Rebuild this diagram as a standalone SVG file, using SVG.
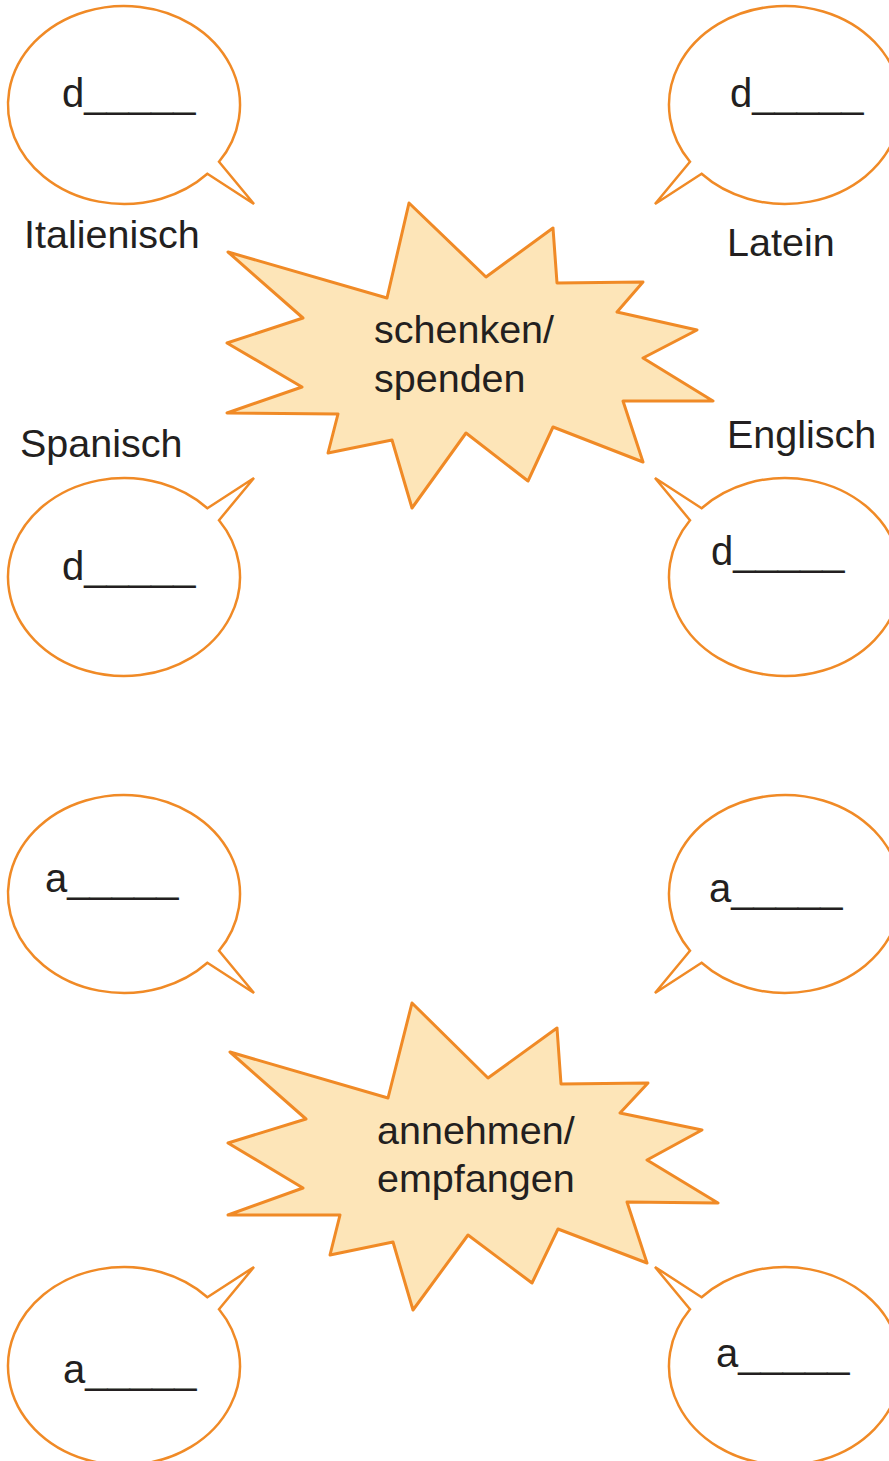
<svg xmlns="http://www.w3.org/2000/svg" xmlns:xlink="http://www.w3.org/1999/xlink" width="889" height="1461" viewBox="0 0 889 1461">
<defs>
<style>
.bubble{fill:#FFFFFF;stroke:#F08A26;stroke-width:2.5;stroke-linejoin:miter}
.star{fill:#FDE5B8;stroke:#F08A26;stroke-width:3;stroke-linejoin:round}
.t{font-family:"Liberation Sans",Arial,sans-serif;fill:#231F20}
.lbl{font-size:39.5px}
.blank{font-size:40px}
</style>
<path id="bub" d="M95,56.8 L130,99 L83.4,68.8 A116 99 0 1 1 95,56.8 Z"/>
</defs>
<rect width="889" height="1461" fill="#FFFFFF"/>
<g id="connectors"/>

<g id="star-schenken">
<polygon class="star" points="409,203 486,277 553,228 557,283 643,282 617,312 697,330 643,358 713,401 623,401 643,462 553,427 528,481 466,433 412,508 392,440 328,453 338,414 227,413 302,387 227,343 303,318 228,252 387,298"/>
<text class="t lbl" x="374" y="343">schenken/</text>
<text class="t lbl" x="374" y="392">spenden</text>
</g>

<g id="bubble-italienisch">
<use xlink:href="#bub" class="bubble" transform="translate(124,105)"/>
<text class="t blank" x="62" y="107">d_____</text>
</g>
<g id="label-italienisch"><text class="t lbl" x="24" y="248">Italienisch</text></g>

<g id="bubble-latein">
<use xlink:href="#bub" class="bubble" transform="translate(785,105) scale(-1,1)"/>
<text class="t blank" x="730" y="107">d_____</text>
</g>
<g id="label-latein"><text class="t lbl" x="727" y="256">Latein</text></g>

<g id="bubble-spanisch">
<use xlink:href="#bub" class="bubble" transform="translate(124,577) scale(1,-1)"/>
<text class="t blank" x="62" y="580">d_____</text>
</g>
<g id="label-spanisch"><text class="t lbl" x="20" y="457">Spanisch</text></g>

<g id="bubble-englisch">
<use xlink:href="#bub" class="bubble" transform="translate(785,577) scale(-1,-1)"/>
<text class="t blank" x="711" y="565">d_____</text>
</g>
<g id="label-englisch"><text class="t lbl" x="727" y="448">Englisch</text></g>

<g id="star-annehmen">
<polygon class="star" points="412,1003 488,1078 557,1028 561,1084 648,1083 620,1113 702,1130 647,1160 718,1203 627,1202 647,1263 558,1229 532,1283 468,1235 413,1310 393,1242 330,1255 340,1215 228,1215 303,1188 228,1143 306,1119 230,1052 388,1098"/>
<text class="t lbl" x="377" y="1144">annehmen/</text>
<text class="t lbl" x="377" y="1192">empfangen</text>
</g>

<g id="bubble-a1">
<use xlink:href="#bub" class="bubble" transform="translate(124,894)"/>
<text class="t blank" x="45" y="892">a_____</text>
</g>
<g id="bubble-a2">
<use xlink:href="#bub" class="bubble" transform="translate(785,894) scale(-1,1)"/>
<text class="t blank" x="709" y="902">a_____</text>
</g>
<g id="bubble-a3">
<use xlink:href="#bub" class="bubble" transform="translate(124,1366) scale(1,-1)"/>
<text class="t blank" x="63" y="1383">a_____</text>
</g>
<g id="bubble-a4">
<use xlink:href="#bub" class="bubble" transform="translate(785,1366) scale(-1,-1)"/>
<text class="t blank" x="716" y="1367">a_____</text>
</g>
</svg>
